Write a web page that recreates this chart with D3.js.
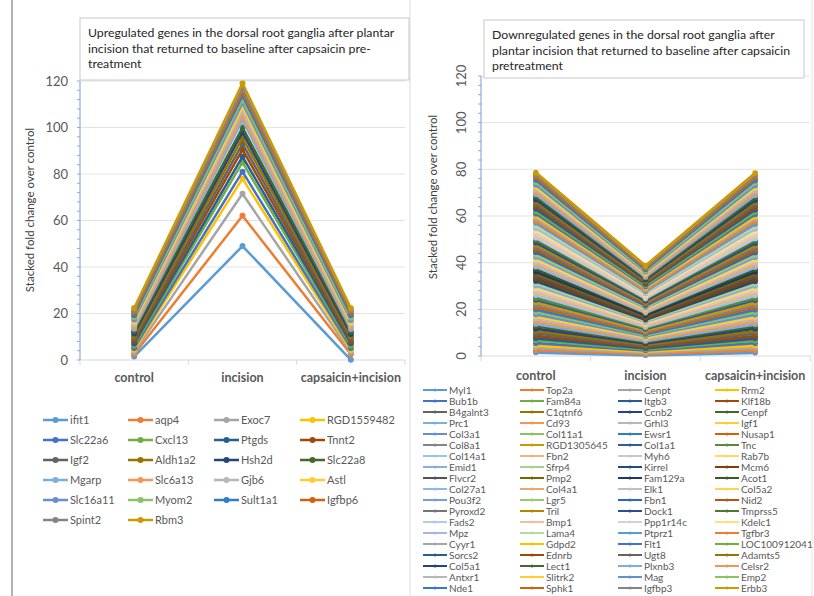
<!DOCTYPE html>
<html>
<head>
<meta charset="utf-8">
<script src="https://cdn.jsdelivr.net/npm/d3@7"></script>
<style>
  body { margin: 0; background: #fff; }
  svg { display: block; font-family: Lato, "Open Sans", sans-serif; }
</style>
</head>
<body>
<svg width="814" height="596"></svg>
<script>
// categories and tick values
var categories = ["control", "incision", "capsaicin+incision"];
var yTicks = [0, 20, 40, 60, 80, 100, 120];

// upregulated genes (left chart)
var upGenes = ["ifit1", "aqp4", "Exoc7", "RGD1559482", "Slc22a6", "Cxcl13", "Ptgds", "Tnnt2",
  "Igf2", "Aldh1a2", "Hsh2d", "Slc22a8", "Mgarp", "Slc6a13", "Gjb6", "Astl",
  "Slc16a11", "Myom2", "Sult1a1", "Igfbp6", "Spint2", "Rbm3"];
var upControl = [1.5, 1.0, 0.9, 1.0, 0.8, 1.0, 0.9, 1.1, 1.0, 1.0, 1.2, 1.0, 1.0, 0.9, 1.0, 1.1,
  1.0, 1.0, 0.9, 1.0, 1.0, 1.1];
var upIncision = [49, 13, 9.5, 6.5, 3, 4, 2.5, 3, 2.5, 2.5, 2.5, 2, 3, 2, 2, 1.8,
  1.8, 1.5, 1.6, 1.5, 1.5, 2.3];
var upCapsaicin = [0.1, 2.4, 0.8, 1.0, 0.9, 1.0, 1.0, 0.9, 1.1, 1.0, 1.0, 1.0, 1.1, 0.9, 1.0, 1.0,
  1.0, 1.0, 1.1, 1.0, 1.0, 1.0];

// downregulated genes (right chart)
var downGenes = ["Myl1", "Top2a", "Cenpt", "Rrm2", "Bub1b", "Fam84a", "Itgb3", "Klf18b",
  "B4galnt3", "C1qtnf6", "Ccnb2", "Cenpf", "Prc1", "Cd93", "Grhl3", "Igf1",
  "Col3a1", "Col11a1", "Ewsr1", "Nusap1", "Col8a1", "RGD1305645", "Col1a1", "Tnc",
  "Col14a1", "Fbn2", "Myh6", "Rab7b", "Emid1", "Sfrp4", "Kirrel", "Mcm6",
  "Flvcr2", "Pmp2", "Fam129a", "Acot1", "Col27a1", "Col4a1", "Elk1", "Col5a2",
  "Pou3f2", "Lgr5", "Fbn1", "Nid2", "Pyroxd2", "Tril", "Dock1", "Tmprss5",
  "Fads2", "Bmp1", "Ppp1r14c", "Kdelc1", "Mpz", "Lama4", "Ptprz1", "Tgfbr3",
  "Cyyr1", "Gdpd2", "Flt1", "LOC100912041", "Sorcs2", "Ednrb", "Ugt8", "Adamts5",
  "Col5a1", "Lect1", "Plxnb3", "Celsr2", "Antxr1", "Slitrk2", "Mag", "Emp2",
  "Nde1", "Sphk1", "Igfbp3", "Erbb3"];
var downControl = [1.5, 1.0, 0.9, 1.1, 1.0, 1.2, 0.9, 1.0, 1.1, 1.0,
  1.0, 1.1, 0.9, 1.0, 1.2, 1.0, 0.9, 1.1, 1.0, 1.0,
  1.1, 1.0, 1.0, 0.9, 1.2, 1.0, 1.1, 1.0, 0.9, 1.0,
  1.0, 1.1, 1.0, 1.0, 0.9, 1.2, 1.0, 1.1, 1.0, 1.0,
  1.0, 1.0, 1.1, 0.9, 1.0, 1.2, 1.0, 1.0, 1.1, 1.0,
  1.1, 1.0, 1.0, 1.0, 1.2, 0.9, 1.0, 1.1, 1.0, 1.0,
  1.0, 1.1, 1.0, 1.0, 1.0, 1.2, 1.0, 1.0, 1.1, 1.0,
  1.0, 1.1, 1.0, 1.0, 1.0, 1.1];
var downIncision = [0.3, 0.5, 0.5, 0.6, 0.5, 0.4, 0.5, 0.6, 0.5, 0.5,
  0.5, 0.6, 0.4, 0.5, 0.5, 0.6, 0.5, 0.4, 0.5, 0.6,
  0.5, 0.5, 0.6, 0.4, 0.5, 0.5, 0.6, 0.5, 0.5, 0.4,
  0.6, 0.5, 0.5, 0.5, 0.4, 0.6, 0.5, 0.5, 0.6, 0.5,
  0.5, 0.4, 0.5, 0.6, 0.5, 0.5, 0.5, 0.6, 0.4, 0.5,
  0.5, 0.6, 0.5, 0.5, 0.4, 0.5, 0.6, 0.5, 0.5, 0.5,
  0.6, 0.5, 0.5, 0.4, 0.5, 0.6, 0.5, 0.5, 0.5, 0.6,
  0.5, 0.5, 0.6, 0.5, 0.5, 0.6];
var downCapsaicin = [1.4, 1.0, 1.0, 1.0, 1.1, 1.1, 0.9, 1.0, 1.1, 1.0,
  1.1, 1.0, 0.9, 1.0, 1.1, 1.0, 1.0, 1.1, 1.0, 1.0,
  1.0, 1.0, 1.1, 0.9, 1.1, 1.0, 1.1, 1.0, 1.0, 1.0,
  1.0, 1.0, 1.1, 1.0, 0.9, 1.1, 1.0, 1.1, 1.0, 1.0,
  1.1, 1.0, 1.0, 0.9, 1.0, 1.1, 1.0, 1.1, 1.0, 1.0,
  1.0, 1.1, 1.0, 1.0, 1.1, 1.0, 1.0, 1.0, 1.1, 1.0,
  1.0, 1.0, 1.1, 1.0, 1.0, 1.1, 1.0, 1.1, 1.0, 1.1,
  1.0, 1.1, 1.0, 1.1, 1.0, 1.1];

// office-style series colours: six accents, then shades / tints of them
var accents = ["#5B9BD5", "#ED7D31", "#A5A5A5", "#FFC000", "#4472C4", "#70AD47"];
var lumVariants = [[1, 0], [0.6, 0], [0.8, 0.2], [0.8, 0], [0.6, 0.4], [0.5, 0], [0.7, 0.3], [0.7, 0], [0.5, 0.5]];
function seriesColor(i) {
  var k = i % 54;
  var v = lumVariants[Math.floor(k / 6)];
  var c = d3.hsl(accents[k % 6]);
  c.l = Math.min(1, c.l * v[0] + v[1]);
  return c.formatHex();
}

var svg = d3.select("svg");

// panel frames
svg.append("line").attr("x1", 12).attr("x2", 12).attr("y1", 0).attr("y2", 596)
  .attr("stroke", "#7f7f7f").attr("stroke-width", 1.2);
svg.append("line").attr("x1", 410).attr("x2", 410).attr("y1", 0).attr("y2", 596)
  .attr("stroke", "#d9d9d9");
svg.append("line").attr("x1", 812).attr("x2", 812).attr("y1", 0).attr("y2", 596)
  .attr("stroke", "#e6e6e6");

function drawChart(cfg) {
  var rows = categories.map(function(c, i) {
    var r = { cat: c };
    cfg.genes.forEach(function(g, j) { r[g] = cfg.values[i][j]; });
    return r;
  });
  var series = d3.stack().keys(cfg.genes)(rows);

  var x = d3.scaleBand().domain(categories).range([cfg.left, cfg.right]);
  var cx = function(c) { return x(c) + x.bandwidth() / 2; };
  var y = d3.scaleLinear().domain([0, 120]).range([cfg.bottom, cfg.top]);

  var g = svg.append("g");

  // gridlines
  g.selectAll(".grid").data(yTicks.slice(1)).enter().append("line")
    .attr("x1", cfg.left).attr("x2", cfg.right)
    .attr("y1", d => y(d)).attr("y2", d => y(d))
    .attr("stroke", "#e3e3e3").attr("stroke-width", 1);

  // x axis baseline and category ticks
  g.append("line").attr("x1", cfg.left).attr("x2", cfg.right)
    .attr("y1", y(0)).attr("y2", y(0)).attr("stroke", "#d9d9d9");
  g.selectAll(".xt").data(categories.concat(["end"])).enter().append("line")
    .attr("x1", (d, i) => cfg.left + i * x.bandwidth())
    .attr("x2", (d, i) => cfg.left + i * x.bandwidth())
    .attr("y1", y(0)).attr("y2", y(0) + 5).attr("stroke", "#d9d9d9");

  // y axis with minor ticks
  g.append("line").attr("x1", cfg.left).attr("x2", cfg.left)
    .attr("y1", y(0)).attr("y2", y(120)).attr("stroke", "#8faadc").attr("stroke-width", 1.2);
  g.selectAll(".mt").data(d3.range(0, 121, 4)).enter().append("line")
    .attr("x1", cfg.left - 3).attr("x2", cfg.left)
    .attr("y1", d => y(d)).attr("y2", d => y(d))
    .attr("stroke", "#8faadc");

  // y tick labels
  var tl = g.selectAll(".yl").data(yTicks).enter().append("text")
    .attr("fill", "#595959").style("font-size", "13px").text(d => d);
  if (cfg.rotateTicks) {
    tl.attr("transform", d => "translate(" + (cfg.left - 20) + "," + y(d) + ") rotate(-90)")
      .attr("text-anchor", "middle").attr("dy", "0.35em");
  } else {
    tl.attr("x", cfg.left - 12).attr("y", d => y(d)).attr("dy", "0.35em")
      .attr("text-anchor", "end");
  }

  // axis title
  g.append("text")
    .attr("transform", "translate(" + cfg.titleX + "," + cfg.titleY + ") rotate(-90)")
    .attr("text-anchor", "middle").attr("fill", "#404040")
    .style("font-size", "11.5px").text("Stacked fold change over control");

  // category labels
  g.selectAll(".cl").data(categories).enter().append("text")
    .attr("x", d => cx(d)).attr("y", cfg.catY)
    .attr("text-anchor", "middle").attr("fill", "#595959")
    .style("font-size", "12.5px").style("font-weight", "bold").text(d => d);

  // stacked lines
  var line = d3.line().x(d => cx(d.data.cat)).y(d => y(d[1]));
  var sg = g.selectAll(".s").data(series).enter().append("g");
  sg.append("path").attr("d", line).attr("fill", "none")
    .attr("stroke", (d, i) => seriesColor(i)).attr("stroke-width", cfg.lineWidth)
    .attr("stroke-linejoin", "round");
  sg.selectAll("circle").data(d => d).enter().append("circle")
    .attr("cx", d => cx(d.data.cat)).attr("cy", d => y(d[1])).attr("r", cfg.dotR)
    .attr("fill", function() { return seriesColor(d3.select(this.parentNode).datum().index); });

  // chart title box
  var tb = cfg.titleBox;
  g.append("rect").attr("x", tb.x).attr("y", tb.y).attr("width", tb.w).attr("height", tb.h)
    .attr("fill", "#fff").attr("stroke", "#c8c8c8");
  g.selectAll(".tt").data(cfg.titleLines).enter().append("text")
    .attr("x", tb.x + 8).attr("y", (d, i) => tb.y + 19 + i * 15.5)
    .attr("fill", "#262626").style("font-size", "12.3px").text(d => d);

  // legend
  var lg = cfg.legend;
  var items = g.selectAll(".lg").data(cfg.genes).enter().append("g")
    .attr("transform", (d, i) => "translate(" + lg.colX[i % 4] + "," + (lg.y0 + Math.floor(i / 4) * lg.dy) + ")");
  items.append("line").attr("x1", 0).attr("x2", lg.len).attr("y1", 0).attr("y2", 0)
    .attr("stroke", (d, i) => seriesColor(i)).attr("stroke-width", lg.lw);
  items.append("circle").attr("cx", lg.len / 2).attr("r", lg.r)
    .attr("fill", (d, i) => seriesColor(i));
  items.append("text").attr("x", lg.len + 2).attr("dy", "0.35em")
    .attr("fill", "#595959").style("font-size", lg.fs).text(d => d);
}

drawChart({
  genes: upGenes,
  values: [upControl, upIncision, upCapsaicin],
  left: 80, right: 405, top: 81, bottom: 360,
  rotateTicks: false,
  titleX: 34, titleY: 210, catY: 382,
  lineWidth: 2.5, dotR: 3,
  titleBox: { x: 80, y: 18, w: 329, h: 62 },
  titleLines: ["Upregulated genes in the dorsal root ganglia after plantar",
    "incision that returned to baseline after capsaicin pre-",
    "treatment"],
  legend: { colX: [43, 128, 214, 300], y0: 420, dy: 20, len: 25, lw: 2.5, r: 3, fs: "11px" }
});

drawChart({
  genes: downGenes,
  values: [downControl, downIncision, downCapsaicin],
  left: 481, right: 810, top: 76, bottom: 356,
  rotateTicks: true,
  titleX: 437, titleY: 197, catY: 380,
  lineWidth: 2.8, dotR: 2.8,
  titleBox: { x: 484, y: 20, w: 320, h: 58 },
  titleLines: ["Downregulated genes in the dorsal root ganglia after",
    "plantar incision that returned to baseline after capsaicin",
    "pretreatment"],
  legend: { colX: [423, 520, 618, 715], y0: 390, dy: 11, len: 24, lw: 2, r: 1.5, fs: "10px" }
});
</script>
</body>
</html>
